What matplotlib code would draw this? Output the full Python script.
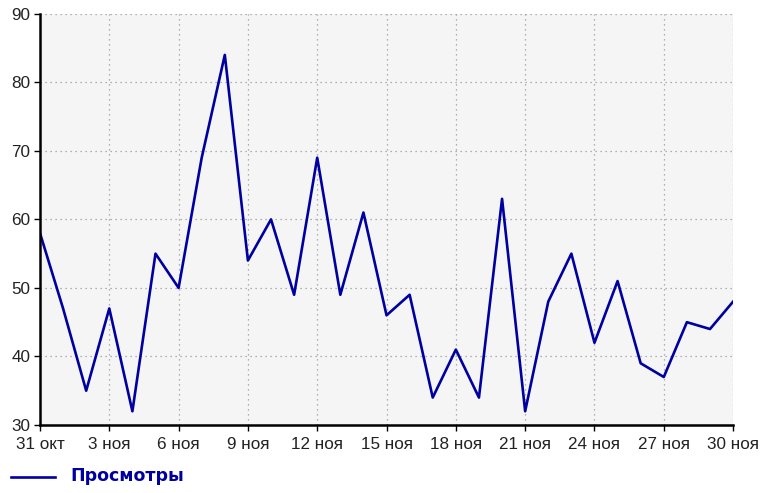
import matplotlib.pyplot as plt
from matplotlib.lines import Line2D

plt.rcParams['font.family'] = ['Liberation Sans', 'DejaVu Sans']

# daily views, 31 Oct .. 30 Nov
days = list(range(31))
views = [58, 47, 35, 47, 32, 55, 50, 69, 84, 54, 60, 49, 69, 49, 61, 46,
         49, 34, 41, 34, 63, 32, 48, 55, 42, 51, 39, 37, 45, 44, 48]
tick_pos = list(range(0, 31, 3))
tick_labels = ['31 окт', '3 ноя', '6 ноя', '9 ноя', '12 ноя', '15 ноя',
               '18 ноя', '21 ноя', '24 ноя', '27 ноя', '30 ноя']
y_ticks = [30, 40, 50, 60, 70, 80, 90]
series_name = 'Просмотры'

line_color = '#0000a0'
text_color = '#222222'

fig = plt.figure(figsize=(7.6, 4.93), dpi=100)
ax = fig.add_axes([0.0526, 0.138, 0.912, 0.834])
ax.set_facecolor('#f5f5f5')

ax.plot(days, views, color=line_color, linewidth=1.9)

ax.set_xlim(0, 30)
ax.set_ylim(30, 90)
ax.set_xticks(tick_pos)
ax.set_xticklabels(tick_labels)
ax.set_yticks(y_ticks)

ax.grid(True, color='#999999', linestyle=(0, (1, 3)), linewidth=0.9)
ax.set_axisbelow(True)

for side in ['top', 'right']:
    ax.spines[side].set_visible(False)
for side in ['left', 'bottom']:
    ax.spines[side].set_linewidth(1.8)
    ax.spines[side].set_color('black')

ax.tick_params(axis='both', length=4, width=1, color='black',
               labelsize=12.3, labelcolor=text_color)
ax.tick_params(axis='x', pad=5)
ax.tick_params(axis='y', pad=3)

# legend below the plot
leg_line = Line2D([0.015, 0.073], [0.033, 0.033], color=line_color,
                  linewidth=1.9, transform=fig.transFigure)
fig.add_artist(leg_line)
fig.text(0.092, 0.035, series_name, color=line_color, fontsize=12.5,
         fontweight='bold', family='DejaVu Sans', va='center', ha='left')

fig.savefig('out.png', dpi=100)
